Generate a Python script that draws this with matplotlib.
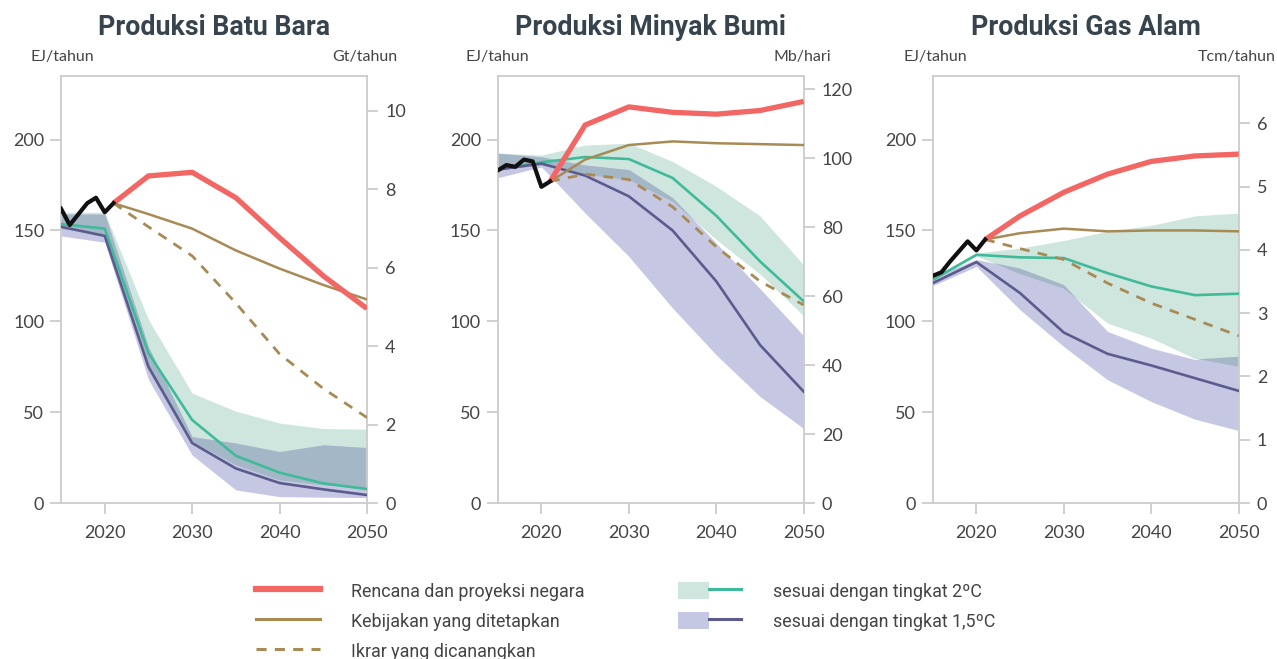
import numpy as np
import matplotlib
matplotlib.use("Agg")
import matplotlib.pyplot as plt
from matplotlib.lines import Line2D
from matplotlib.patches import Patch
from matplotlib.legend_handler import HandlerTuple

# --- data (EJ/tahun) ---
hist_years = [2015, 2016, 2017, 2018, 2019, 2020, 2021]
proj_years = [2021, 2025, 2030, 2035, 2040, 2045, 2050]
scen_years = [2015, 2020, 2025, 2030, 2035, 2040, 2045, 2050]

coal_hist = [162, 153, 159, 165, 168, 160, 165]
coal_plan = [165, 180, 182, 168, 146, 125, 107]
coal_steps = [165, 159, 151, 139, 129, 120, 112]
coal_pledge = [165, 152, 136, 110, 82, 63, 47]
coal_2c = [153.5, 151, 82.5, 45.7, 26, 16.7, 10.8, 7.7]
coal_15 = [152, 147, 75, 33, 19, 11, 7.5, 4.4]
coal_2c_hi = [160, 160, 101, 60.5, 50.5, 44, 41, 40.6]
coal_2c_lo = [151, 148, 73, 34, 21, 12.7, 10, 8.6]
coal_15_hi = [159, 159, 86, 36.5, 33, 28.3, 32, 30.5]
coal_15_lo = [147, 143.5, 68, 26.4, 7.2, 3.5, 3.2, 3]

oil_hist = [183, 186, 185, 189, 188, 174, 177]
oil_plan = [177, 208, 218, 215, 214, 216, 221]
oil_steps = [177, 189, 197, 199, 198, 197.5, 197]
oil_pledge = [177, 181, 178, 163, 141, 122, 109]
oil_2c = [183.5, 187.5, 190.4, 189.3, 178.9, 158.1, 133, 111]
oil_15 = [183.5, 186.8, 180.2, 168.8, 150, 122, 87, 61.3]
oil_2c_hi = [192.5, 191.5, 197, 198, 188, 174.3, 158, 131]
oil_2c_lo = [183.5, 186, 181, 178, 166, 145, 126, 103]
oil_15_hi = [192.5, 190.5, 186, 183.5, 168, 143, 118, 92]
oil_15_lo = [179, 185, 159.6, 135.7, 107.3, 81.5, 58.6, 41]

gas_hist = [125, 127, 133, 138.5, 144, 139, 145]
gas_plan = [145, 158, 171, 181, 188, 191, 192]
gas_steps = [145, 148.5, 151, 149.5, 150, 150, 149.5]
gas_pledge = [145, 140, 134, 121, 110, 101, 92]
gas_2c = [122.9, 136.6, 135.2, 134.8, 126.5, 119.2, 114.4, 115.2]
gas_15 = [121, 132.6, 115.5, 93.8, 82.1, 75.7, 68.7, 61.7]
gas_2c_hi = [124, 137.6, 140.3, 144.5, 149.5, 152.8, 158, 159.6]
gas_2c_lo = [122, 136, 126, 118, 99, 90.7, 79.5, 75]
gas_15_hi = [124.5, 134, 129, 120, 94.4, 85.2, 79, 80.5]
gas_15_lo = [119.6, 130.2, 106.3, 86.1, 67.8, 55.8, 46.1, 39.9]

titles = ["Produksi Batu Bara", "Produksi Minyak Bumi", "Produksi Gas Alam"]
right_units = ["Gt/tahun", "Mb/hari", "Tcm/tahun"]
right_max = [10.89, 123.8, 6.75]
right_ticks = [[0, 2, 4, 6, 8, 10], [0, 20, 40, 60, 80, 100, 120], [0, 1, 2, 3, 4, 5, 6]]

legend_labels = ["Rencana dan proyeksi negara", "Kebijakan yang ditetapkan",
                 "Ikrar yang dicanangkan", "sesuai dengan tingkat 2ºC",
                 "sesuai dengan tingkat 1,5ºC"]

# --- styles ---
RED = "#f26664"
BROWN = "#a88a55"
TEAL = "#40bb99"
PURPLE = "#5b5b8e"
GREEN_BAND = "#cfe6df"
PURPLE_BAND = "#c6c7e3"
OVERLAP = "#a3b7c6"
FRAME = "#cccccc"
TXT = "#444444"

plt.rcParams["font.family"] = ["Lato", "DejaVu Sans"]

fig = plt.figure(figsize=(12.77, 6.59), dpi=100)
lefts = [61 / 1277, 497.7 / 1277, 932.7 / 1277]
unit_left = [-0.101, -0.104, -0.097]
unit_right = [1.099, 1.091, 1.121]

panels = [
    (coal_hist, coal_plan, coal_steps, coal_pledge, coal_2c, coal_15,
     coal_2c_hi, coal_2c_lo, coal_15_hi, coal_15_lo),
    (oil_hist, oil_plan, oil_steps, oil_pledge, oil_2c, oil_15,
     oil_2c_hi, oil_2c_lo, oil_15_hi, oil_15_lo),
    (gas_hist, gas_plan, gas_steps, gas_pledge, gas_2c, gas_15,
     gas_2c_hi, gas_2c_lo, gas_15_hi, gas_15_lo),
]

grid = np.linspace(2015, 2050, 1401)

for i, (hist, plan, steps, pledge, l2c, l15, h2, lo2, h15, lo15) in enumerate(panels):
    ax = fig.add_axes([lefts[i], 1 - 503 / 659, 306 / 1277, 427 / 659])

    # scenario ranges, overlap drawn darker on top
    ax.fill_between(scen_years, lo2, h2, color=GREEN_BAND, lw=0, zorder=1)
    ax.fill_between(scen_years, lo15, h15, color=PURPLE_BAND, lw=0, zorder=1)
    top = np.minimum(np.interp(grid, scen_years, h2), np.interp(grid, scen_years, h15))
    bot = np.maximum(np.interp(grid, scen_years, lo2), np.interp(grid, scen_years, lo15))
    ax.fill_between(grid, bot, top, where=top > bot, interpolate=True,
                    color=OVERLAP, lw=0, zorder=2)

    ax.plot(scen_years, l2c, color=TEAL, lw=1.9, zorder=3)
    ax.plot(scen_years, l15, color=PURPLE, lw=1.9, zorder=3)
    ax.plot(proj_years, pledge, color=BROWN, lw=2.0, ls=(0, (3.5, 3)), zorder=4)
    ax.plot(proj_years, steps, color=BROWN, lw=1.8, zorder=4)
    ax.plot(proj_years, plan, color=RED, lw=3.8, zorder=5, solid_capstyle="butt")
    ax.plot(hist_years, hist, color="#111111", lw=3.0, zorder=6)

    ax.set_xlim(2015, 2050)
    ax.set_ylim(0, 235)
    ax.set_xticks([2020, 2030, 2040, 2050])
    ax.set_yticks([0, 50, 100, 150, 200])
    for s in ax.spines.values():
        s.set_color(FRAME)
        s.set_linewidth(1.3)
    ax.tick_params(axis="both", colors=FRAME, labelcolor=TXT, labelsize=13,
                   length=8, width=1.3)
    ax.tick_params(axis="x", pad=8)
    ax.tick_params(axis="y", pad=4)

    ax2 = ax.twinx()
    ax2.set_ylim(0, right_max[i])
    ax2.set_yticks(right_ticks[i])
    for s in ax2.spines.values():
        s.set_visible(False)
    ax2.tick_params(axis="y", colors=FRAME, labelcolor=TXT, labelsize=13,
                    length=8, width=1.3, pad=5)

    ax.text(0.5, 1.096, titles[i], transform=ax.transAxes, ha="center",
            va="baseline", fontsize=19.3, fontweight="bold", color="#37444e",
            family=["Roboto", "DejaVu Sans"])
    ax.text(unit_left[i], 1.035, "EJ/tahun", transform=ax.transAxes, ha="left",
            va="baseline", fontsize=11.5, color=TXT)
    ax.text(unit_right[i], 1.035, right_units[i], transform=ax.transAxes,
            ha="right", va="baseline", fontsize=11.5, color=TXT)

handles = [
    Line2D([], [], color=RED, lw=4.5),
    Line2D([], [], color=BROWN, lw=2.2),
    Line2D([], [], color=BROWN, lw=2.2, ls=(0, (3.3, 2.7))),
    (Patch(color=GREEN_BAND, lw=0), Line2D([], [], color=TEAL, lw=2.2)),
    (Patch(color=PURPLE_BAND, lw=0), Line2D([], [], color=PURPLE, lw=2.2)),
]
fig.legend(handles, legend_labels, ncol=2, loc="upper left",
           bbox_to_anchor=(256 / 1277, 1 - 582 / 659), frameon=False,
           handler_map={tuple: HandlerTuple(ndivide=None, pad=0)},
           prop={"family": ["Roboto", "DejaVu Sans"], "size": 12.9},
           labelcolor=TXT, handlelength=3.55, handleheight=1.08,
           handletextpad=1.75, columnspacing=5.2, labelspacing=0.64,
           borderpad=0, borderaxespad=0)

fig.savefig("out.png", dpi=100)
